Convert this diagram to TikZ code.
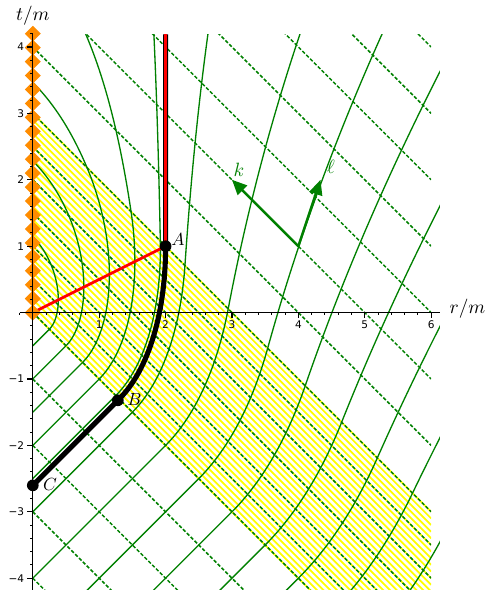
\documentclass[tikz,border=0pt]{standalone}
\usepackage{fontspec}
\newfontfamily\tickfont{DejaVu Sans}
\usetikzlibrary{arrows.meta}
\definecolor{sgreen}{RGB}{0,128,0}
\definecolor{syellow}{RGB}{255,255,0}
\definecolor{sorange}{RGB}{255,140,0}
\definecolor{sred}{RGB}{255,0,0}
\newif\ifraygo
\def\qhh{0.04}
% direction of outgoing radial null ray in (r,t), Vaidya with m(v)=v/3 on [0,3]
\newcommand\qdir[2]{%
  \pgfmathsetmacro\qVv{(#1)+(#2)}%
  \pgfmathsetmacro\qMm{min(max(\qVv,0),3)/3}%
  \pgfmathsetmacro\qEa{(#1)-2*\qMm}%
  \pgfmathsetmacro\qEb{(#1)+2*\qMm}%
  \pgfmathsetmacro\qNn{sqrt((\qEa)*(\qEa)+(\qEb)*(\qEb))}%
  \pgfmathsetmacro\qDr{(\qEa)/\qNn}%
  \pgfmathsetmacro\qDt{(\qEb)/\qNn}%
}
\newcommand\qstep{%
  \qdir{\qR}{\qT}%
  \pgfmathsetmacro\qRm{\qR+0.5*(\qhh)*(\qDr)}%
  \pgfmathsetmacro\qTm{\qT+0.5*(\qhh)*(\qDt)}%
  \qdir{\qRm}{\qTm}%
  \pgfmathsetmacro\qR{\qR+(\qhh)*(\qDr)}%
  \pgfmathsetmacro\qT{\qT+(\qhh)*(\qDt)}%
}
\newcommand\qray[1]{%
  \pgfmathsetmacro\qR{#1}%
  \pgfmathsetmacro\qT{-(#1)}%
  \pgfmathsetmacro\qU{-2*(#1)}%
  \edef\qpts{(0,\qU) -- (\qR,\qT)}%
  \raygotrue
  \loop
    \qstep
    \edef\qpts{\qpts -- (\qR,\qT)}%
    \pgfmathtruncatemacro\qstop{((\qR<0)||(\qT>4.3)||(\qR>6.3)) ? 1 : 0}%
    \ifnum\qstop=1 \raygofalse\fi
  \ifraygo\repeat
  \edef\qcmd{\noexpand\draw[outray] \qpts;}\qcmd
}
\tikzset{
  outray/.style={sgreen, line width=0.75pt},
  nullin/.style={sgreen, line width=0.85pt, dash pattern=on 2pt off 1.1pt},
  hatchline/.style={syellow, line width=1pt},
  horizon/.style={black, line width=2.9pt},
  apparent/.style={sred, line width=1.6pt},
  axisline/.style={black, line width=0.6pt},
  vec/.style={sgreen, line width=1.4pt, -{Triangle[length=8.5pt,width=7.5pt]}},
  lab/.style={inner sep=0pt, font=\fontsize{10}{12}\selectfont},
  veclab/.style={inner sep=0pt, text=sgreen, font=\fontsize{10.5}{12}\selectfont},
  ticklab/.style={inner sep=0pt, font=\tickfont\fontsize{6}{7}\selectfont},
  axlab/.style={inner sep=0pt, font=\fontsize{11}{13}\selectfont},
}
\begin{document}
\begin{tikzpicture}[x=1.328cm, y=1.328cm, line join=round]
\useasboundingbox (-0.494,-4.178) rectangle (6.855,4.708);

% shell (yellow hatching) and ingoing null lines
\begin{scope}
  \clip (0,-4.2) rectangle (6,4.19);
  \foreach \k in {0,...,30} {\draw[hatchline] (0,\k/10) -- (6,\k/10-6);}
  \foreach \v in {-4,-3,-2,-1,0,0.5,1,1.5,2,2.5,3,4,5,6,7,8,9,10}
    {\draw[nullin] (0,\v) -- (6,\v-6);}
\end{scope}

% outgoing null rays
\begin{scope}
  \clip (0,-4.2) rectangle (6.13,4.19);
  \def\qhh{0.04}
  \foreach \rz in {0.25,0.5,0.75,1,1.25,1.5,2,2.5,3,3.5,4,4.5,5} {\qray{\rz}}
\end{scope}

% apparent horizon inside the shell
\coordinate (O) at (0,0);
\coordinate (A) at (2,1);
\coordinate (Atop) at (2,4.19);
\draw[apparent] (O) -- (A);

% event horizon, traced backwards from A
\def\qhh{-0.03}
\pgfmathsetmacro\qR{2}\pgfmathsetmacro\qT{1}
\def\qhpts{(2,1) -- (2,4.19)}
\raygotrue
\loop
  \qstep
  \edef\qhpts{(\qR,\qT) -- \qhpts}%
  \pgfmathtruncatemacro\qstop{((\qR)+(\qT)<0) ? 1 : 0}%
  \ifnum\qstop=1 \raygofalse\fi
\ifraygo\repeat
\pgfmathsetmacro\qCt{(\qT)-(\qR)}
\coordinate (B) at (\qR,\qT);
\coordinate (C) at (0,\qCt);
\edef\qcmd{\noexpand\draw[horizon] (0,\qCt) -- \qhpts;}\qcmd
\draw[apparent] (A) -- (Atop);

% singularity
\foreach \k in {0,...,20} {
  \fill[sorange] (0,0.21*\k+0.12) -- (0.12,0.21*\k) -- (0,0.21*\k-0.12) -- (-0.12,0.21*\k) -- cycle;
}

% axes
\draw[axisline] (-0.2,0) -- (6.13,0);
\draw[axisline] (0,-4.2) -- (0,4.19);
\foreach \i in {-1,...,30} {\draw[axisline] (\i/5,0) -- (\i/5,-0.04);}
\foreach \i in {1,...,6} {\draw[axisline] (\i,0) -- (\i,-0.08);
  \node[ticklab] (xl\i) at (\i,-0.187) {\i};}
\foreach \i in {-21,...,21} {\draw[axisline] (0,\i/5) -- (-0.04,\i/5);}
\foreach \i in {-4,...,4} {\draw[axisline] (0,\i) -- (-0.08,\i);}
\foreach \i/\s in {1/1,2/2,3/3,4/4,-1/−1,-2/−2,-3/−3,-4/−4}
  {\node[ticklab, anchor=east] (yl\i) at (-0.125,\i) {\s};}
\node[axlab] (tlab) at (0,4.474) {$t/m$};
\node[axlab] (rlab) at (6.547,0.054) {$r/m$};

% points
\fill (A) circle (0.088);
\fill (B) circle (0.088);
\fill (C) circle (0.088);
\node[lab, xshift=7pt, yshift=4.1pt] (labA) at (A) {$A$};
\node[lab, xshift=9.5pt, yshift=0.45pt] (labB) at (B) {$B$};
\node[lab, xshift=9.75pt, yshift=0.5pt] (labC) at (C) {$C$};

% null vectors
\coordinate (P) at (4,1);
\coordinate (K) at (3,2);
\coordinate (L) at (4.3333,2);
\draw[vec] (P) -- (K);
\draw[vec] (P) -- (L);
\node[veclab] (labk) at (3.105,2.148) {$k$};
\node[veclab] (labl) at (4.49,2.193) {$\ell$};
\end{tikzpicture}
\end{document}
